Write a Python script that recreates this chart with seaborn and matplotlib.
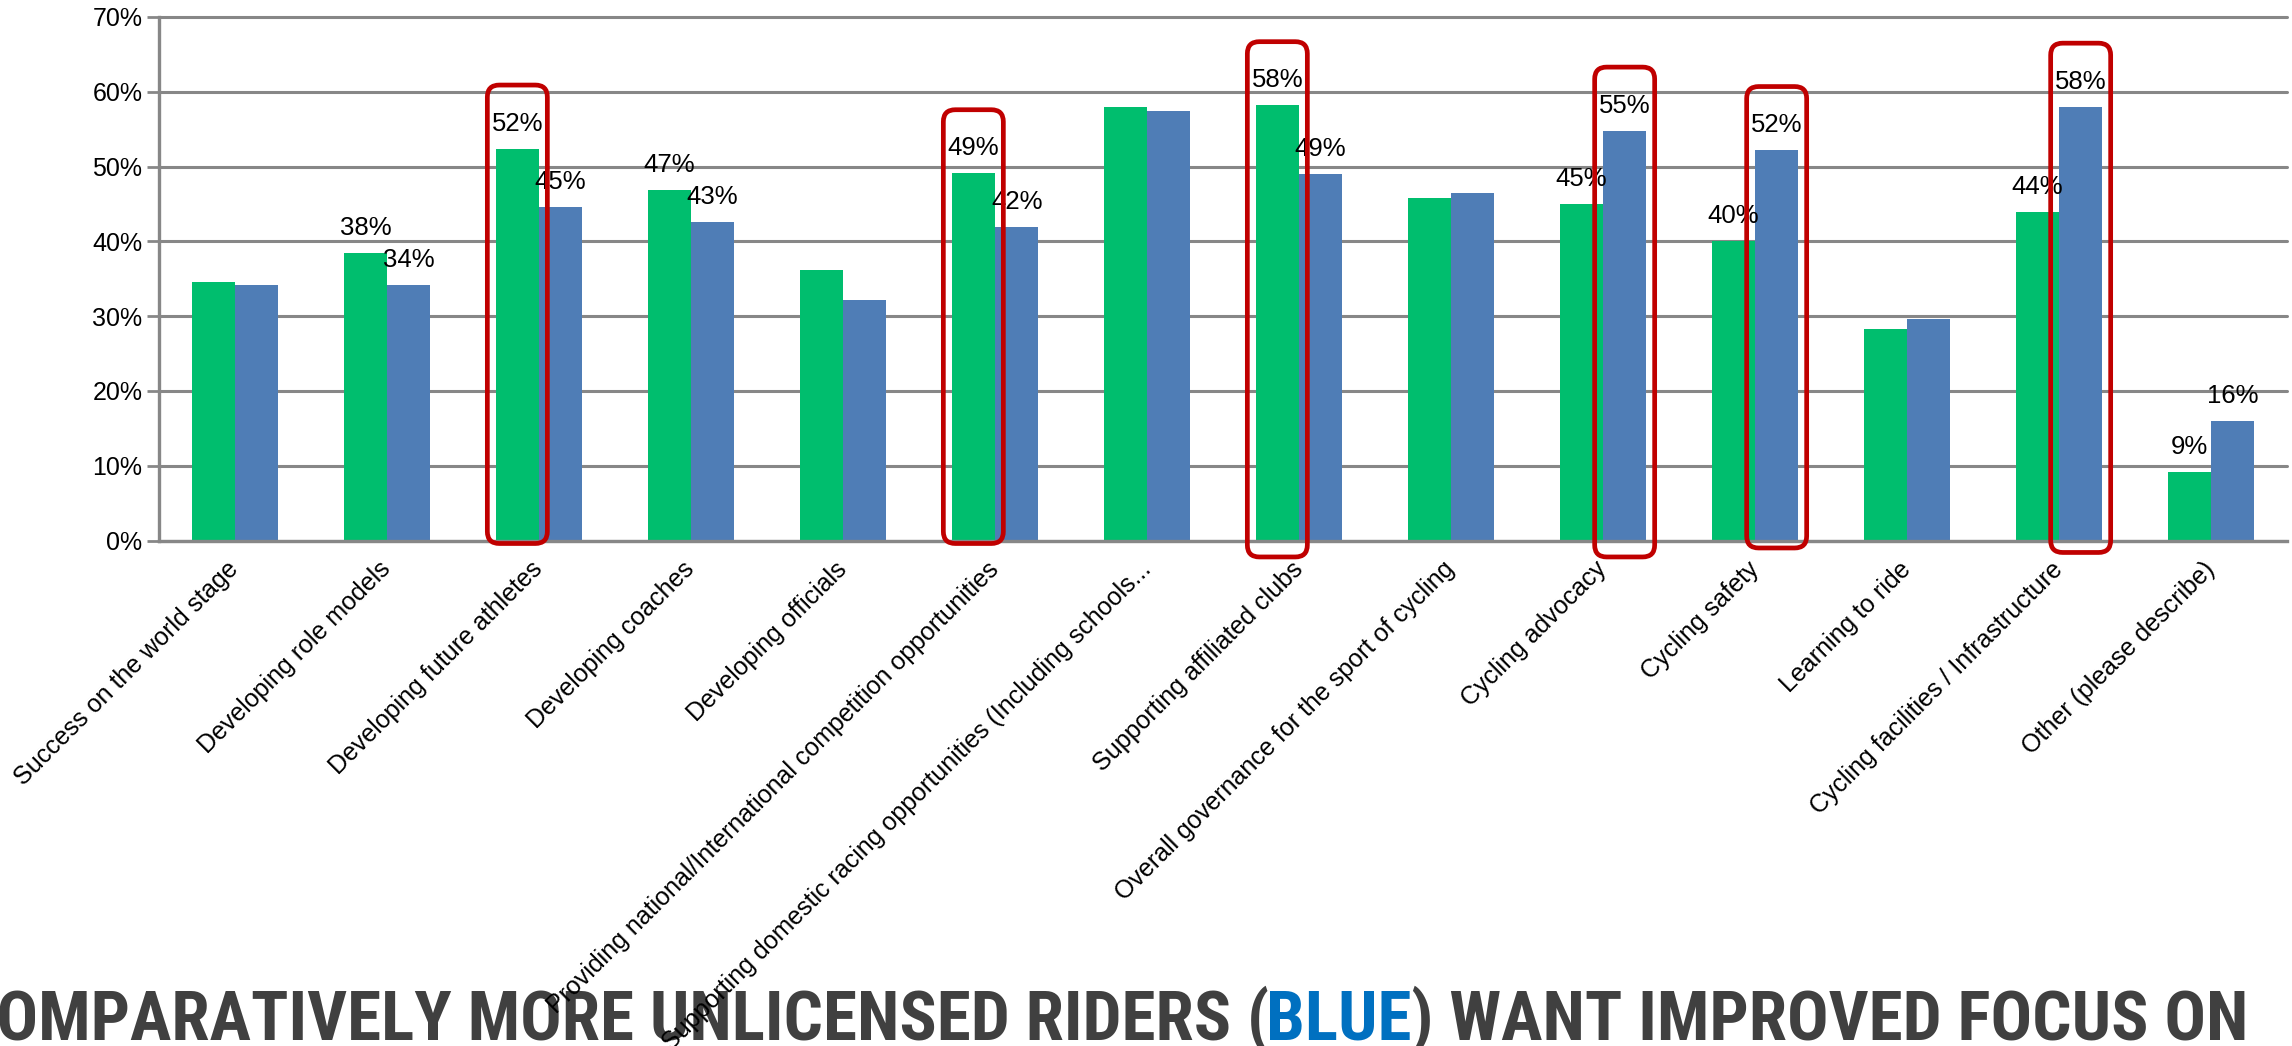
import matplotlib
matplotlib.use("Agg")
import matplotlib.pyplot as plt
import numpy as np
import pandas as pd
import seaborn as sns
from matplotlib import font_manager as fm
from matplotlib.patches import FancyBboxPatch

CATEGORIES = [
    "Success on the world stage",
    "Developing role models",
    "Developing future athletes",
    "Developing coaches",
    "Developing officials",
    "Providing national/International competition opportunities",
    "Supporting domestic racing opportunities (Including schools...",
    "Supporting affiliated clubs",
    "Overall governance for the sport of cycling",
    "Cycling advocacy",
    "Cycling safety",
    "Learning to ride",
    "Cycling facilities / Infrastructure",
    "Other (please describe)",
]
GROUPS = ["Licensed", "Unlicensed"]
LICENSED = [34.6, 38.4, 52.4, 46.9, 36.2, 49.1, 57.9, 58.2, 45.8, 45.0, 40.1, 28.3, 43.9, 9.2]
UNLICENSED = [34.1, 34.1, 44.6, 42.6, 32.2, 41.9, 57.4, 49.0, 46.4, 54.8, 52.2, 29.6, 58.0, 16.0]
# categories that carry value labels in the original
LABELLED = [False, True, True, True, False, True, False, True, False, True, True, False, True, True]
# (category index, group index) of the bars circled in red
HIGHLIGHTS = [(2, 0), (5, 0), (7, 0), (9, 1), (10, 1), (12, 1)]
Y_TICKS = [0, 10, 20, 30, 40, 50, 60, 70]

GREEN = "#00BE6E"
BLUE = "#4F7DB6"
GRID = "#878787"
RED = "#C00000"
TITLE_GRAY = "#404040"
TITLE_BLUE = "#0070C0"
TITLE_PARTS = [
    ("COMPARATIVELY MORE UNLICENSED RIDERS (", TITLE_GRAY),
    ("BLUE", TITLE_BLUE),
    (") WANT IMPROVED FOCUS ON", TITLE_GRAY),
]


def condensed_bold():
    # look for a narrow bold face for the slide headline
    wanted = ["Roboto Condensed", "Liberation Sans Narrow", "Open Sans Condensed",
              "DejaVu Sans Condensed", "Noto Sans Condensed"]
    bold = [f for f in fm.fontManager.ttflist
            if (f.weight in ("bold", 700, "heavy", 800, 900) or "Bold" in f.fname)
            and "Italic" not in f.fname and "Oblique" not in f.fname]
    for name in wanted:
        key = name.replace(" ", "").lower()
        for f in bold:
            fn = f.fname.replace(" ", "").replace("-", "").lower()
            if key in fn or f.name == name:
                return fm.FontProperties(fname=f.fname)
    for f in bold:
        if "condensed" in f.fname.lower() or "narrow" in f.fname.lower():
            return fm.FontProperties(fname=f.fname)
    return fm.FontProperties(family="Liberation Sans", weight="bold")


sns.set_theme(style="white")
plt.rcParams["font.family"] = ["Liberation Sans", "DejaVu Sans"]

W, H = 2292, 1046
fig = plt.figure(figsize=(W / 100, H / 100), dpi=100)
ax = fig.add_axes([159 / W, 505.5 / H, 2128 / W, 523.5 / H])

df = pd.DataFrame({
    "Category": CATEGORIES * 2,
    "Group": [GROUPS[0]] * len(CATEGORIES) + [GROUPS[1]] * len(CATEGORIES),
    "Value": LICENSED + UNLICENSED,
})

sns.barplot(data=df, x="Category", y="Value", hue="Group", hue_order=GROUPS,
            palette=[GREEN, BLUE], width=0.57, saturation=1, linewidth=0,
            legend=False, ax=ax)

ax.set_xlim(-0.5, len(CATEGORIES) - 0.5)
ax.set_ylim(0, 70)
ax.set_xlabel("")
ax.set_ylabel("")

ax.set_yticks(Y_TICKS)
ax.set_yticklabels([f"{t}%" for t in Y_TICKS], fontsize=18, color="black")
ax.yaxis.grid(True, color=GRID, linewidth=2.2)
for gl in ax.get_ygridlines():
    gl.set_clip_on(False)
ax.set_axisbelow(True)

ax.set_xticks(range(len(CATEGORIES)))
ax.set_xticks(np.arange(-0.5, len(CATEGORIES), 1), minor=True)
ax.set_xticklabels(CATEGORIES, fontsize=18, color="black")
ax.tick_params(axis="x", which="major", length=0, pad=18)
ax.tick_params(axis="x", which="minor", length=8, width=2, color=GRID, direction="out")
ax.tick_params(axis="y", length=9, width=2, color=GRID, direction="out", pad=3, left=True)
plt.setp(ax.get_xticklabels(), rotation=45, ha="right", va="center", rotation_mode="anchor")

for side in ["top", "right"]:
    ax.spines[side].set_visible(False)
for side in ["left", "bottom"]:
    ax.spines[side].set_color(GRID)
    ax.spines[side].set_linewidth(2.4)

# value labels
for g, container in enumerate(ax.containers):
    vals = LICENSED if g == 0 else UNLICENSED
    for i, bar in enumerate(container):
        if not LABELLED[i]:
            continue
        cx = bar.get_x() + bar.get_width() / 2
        ax.annotate(f"{vals[i]:.0f}%", xy=(cx, bar.get_height()), xytext=(0, 13),
                    textcoords="offset points", ha="center", va="baseline",
                    fontsize=18.5, color="black", zorder=6)

# red rounded boxes around highlighted bars (hand drawn, bottoms vary a bit)
box_bottoms = [-0.4, -0.4, -2.2, -2.2, -1.0, -1.6]
p0 = ax.transData.transform((0, 0))
p1 = ax.transData.transform((1, 1))
px_x, px_y = p1[0] - p0[0], p1[1] - p0[1]
for (i, g), bottom in zip(HIGHLIGHTS, box_bottoms):
    bar = ax.containers[g][i]
    cx = bar.get_x() + bar.get_width() / 2
    bw = 60 / px_x
    top = bar.get_height() + 8.5
    box = FancyBboxPatch((cx - bw / 2, bottom), bw, top - bottom,
                         boxstyle=f"round,pad=0,rounding_size={12 / px_x}",
                         mutation_aspect=px_x / px_y,
                         facecolor="none", edgecolor=RED, linewidth=3.4,
                         clip_on=False, zorder=7)
    ax.add_patch(box)

# bottom headline; the slide cuts its first letter off at the left edge
title_font = condensed_bold()
tax = fig.add_axes([0, 0, 1, 1], zorder=-1)
tax.axis("off")
tax.set_xlim(0, W)
tax.set_ylim(0, H)
texts = [tax.text(0, 6, s, ha="left", va="baseline", color=c,
                  fontproperties=title_font, fontsize=40)
         for s, c in TITLE_PARTS]
probe = tax.text(0, 6, TITLE_PARTS[0][0][0], ha="left", va="baseline",
                 fontproperties=title_font, fontsize=40)
fig.canvas.draw()
r = fig.canvas.get_renderer()
widths = [t.get_window_extent(r).width for t in texts]
first_w = probe.get_window_extent(r).width
probe.remove()
scale = (2246 + 4) / (sum(widths) - first_w)
x = -(first_w + 4 / scale) * scale
for t, w in zip(texts, widths):
    t.set_fontsize(40 * scale)
    t.set_x(x)
    x += w * scale

fig.savefig("out.png", dpi=100)
